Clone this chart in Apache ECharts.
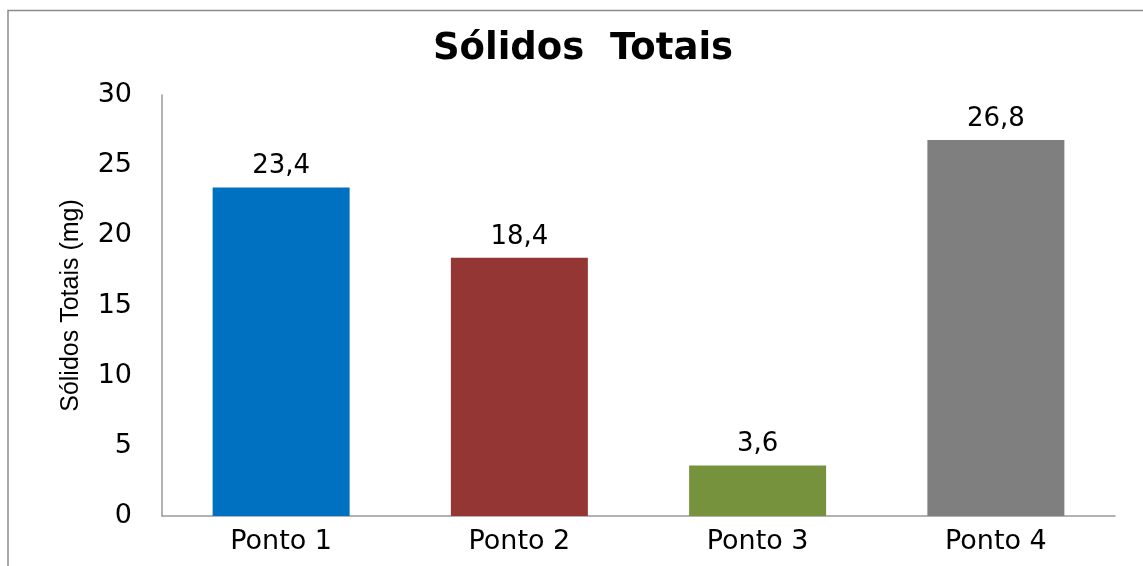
<!DOCTYPE html>
<html>
<head>
<meta charset="utf-8">
<script src="https://cdn.jsdelivr.net/npm/echarts@6/dist/echarts.min.js"></script>
<style>
  html, body { margin: 0; padding: 0; background: #fff; overflow: hidden; }
  #chart { width: 1143px; height: 566px; }
</style>
</head>
<body>
<div id="chart"></div>
<script>
// dados
var pontos = ['Ponto 1', 'Ponto 2', 'Ponto 3', 'Ponto 4'];
var solidos = [23.4, 18.4, 3.6, 26.8];
var yTicks = [0, 5, 10, 15, 20, 25, 30];

var cores = ['#0070C0', '#943634', '#76923C', '#7F7F7F'];

var myChart = echarts.init(document.getElementById('chart'));
var option = {
  backgroundColor: '#fff',
  animation: false,
  title: {
    text: 'Sólidos  Totais',
    left: 578,
    textAlign: 'center',
    top: 26,
    textStyle: {
      fontFamily: 'DejaVu Sans',
      fontWeight: 'bold',
      fontSize: 37,
      color: '#000'
    }
  },
  graphic: [{
    type: 'rect',
    silent: true,
    shape: { x: 8, y: 10.5, width: 1300, height: 800 },
    style: { fill: 'none', stroke: '#8c8c8c', lineWidth: 1.5 }
  }],
  grid: {                   // area do grafico
    left: 162,
    right: 28,
    top: 95,
    bottom: 50
  },
  xAxis: {
    type: 'category',
    data: pontos,
    axisTick: { show: false },
    axisLine: { lineStyle: { color: '#999', width: 1.5 } },
    axisLabel: {
      margin: 12,
      fontFamily: 'DejaVu Sans',
      fontSize: 27,
      color: '#000'
    }
  },
  yAxis: {
    type: 'value',
    min: yTicks[0],
    max: yTicks[yTicks.length - 1],
    interval: yTicks[1] - yTicks[0],
    name: 'Sólidos Totais (mg)',
    nameLocation: 'middle',
    nameGap: 78,
    nameTextStyle: {
      fontFamily: 'Liberation Sans',
      fontSize: 25,
      color: '#000'
    },
    splitLine: { show: false },
    axisTick: { show: false },
    axisLine: { show: true, lineStyle: { color: '#999', width: 1.5 } },
    axisLabel: {
      margin: 30,
      fontFamily: 'DejaVu Sans',
      fontSize: 27,
      color: '#000'
    }
  },
  series: [{
    type: 'bar',
    barWidth: '57.5%',
    data: solidos.map(function (v, i) {
      return { value: v, itemStyle: { color: cores[i] } };
    }),
    label: {
      show: true,
      position: 'top',
      distance: 8,
      fontFamily: 'DejaVu Sans',
      fontSize: 26,
      color: '#000',
      formatter: function (p) {
        return String(p.value).replace('.', ',');
      }
    }
  }]
};
myChart.setOption(option);
</script>
</body>
</html>
